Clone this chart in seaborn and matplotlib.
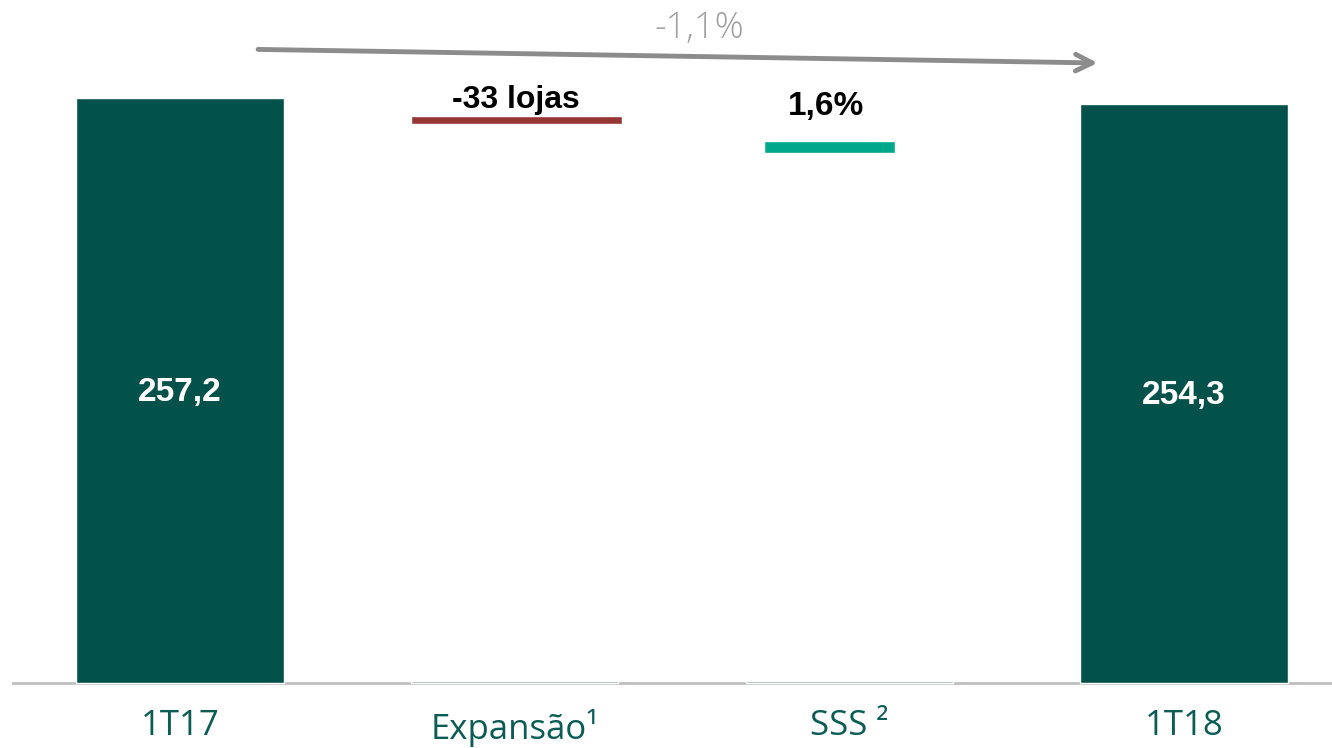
import matplotlib
matplotlib.use('Agg')
import matplotlib.pyplot as plt
import seaborn as sns
import pandas as pd

# Data
categories = ['1T17', 'Expansão¹', 'SSS ²', '1T18']
totals = [257.2, 1.0, 1.0, 254.3]
total_labels = ['257,2', '', '', '254,3']
float_bottoms = [245.6, 233.0]
float_heights = [3.8, 5.3]
float_labels = ['-33 lojas', '1,6%']
growth_label = '-1,1%'

sns.set_theme(style='white')
plt.rcParams['font.family'] = ['Liberation Sans', 'DejaVu Sans']

fig = plt.figure(figsize=(13.32, 7.48), dpi=100)
ax = fig.add_axes([12 / 1332, 1 - 685 / 748, 1 - 12 / 1332, 685 / 748])

df = pd.DataFrame({'cat': categories, 'val': totals})
bar_colors = ['#03514B', '#86A8A4', '#86A8A4', '#03514B']
sns.barplot(data=df, x='cat', y='val', hue='cat', palette=bar_colors,
            width=0.62, legend=False, ax=ax, saturation=1)

# floating bars
ax.bar([1.005], [float_heights[0]], bottom=[float_bottoms[0]], width=0.63, color='#963634')
ax.bar([1.94], [float_heights[1]], bottom=[float_bottoms[1]], width=0.39, color='#00A88A')

for i, lab in enumerate(total_labels):
    if lab:
        ax.text(i, totals[i] * 0.5 - 1, lab, ha='center', va='center', color='white',
                fontsize=24, fontweight='bold')

ax.text(1.005, float_bottoms[0] + float_heights[0] + 0.3, float_labels[0], ha='center',
        va='bottom', fontsize=23, fontweight='bold', color='black')
ax.text(1.93, 246.5, float_labels[1], ha='center', va='bottom', fontsize=24,
        fontweight='bold', color='black')

# arrow for total change
ax.annotate('', xy=(2.75, 272.5), xytext=(0.225, 278.5),
            arrowprops=dict(arrowstyle='->', color='#8C8C8C', lw=3.5, mutation_scale=30))
ax.text(1.55, 287.5, growth_label, ha='center', va='center', fontsize=26,
        color='#A0A0A0', family=['Open Sans', 'DejaVu Sans'], fontweight='light')

ax.set_xlim(-0.502, 3.442)
ax.set_ylim(-0.9, 300.2)
ax.set_xlabel('')
ax.set_ylabel('')
ax.set_yticks([])
ax.tick_params(axis='x', length=0, pad=17, labelsize=25, labelcolor='#0B5C55')
for t in ax.get_xticklabels():
    t.set_family(['Open Sans', 'DejaVu Sans'])
for s in ['top', 'right', 'left', 'bottom']:
    ax.spines[s].set_visible(False)
ax.axhline(0, color='#BFBFBF', lw=2, zorder=0)

fig.savefig('out.png', dpi=100)
